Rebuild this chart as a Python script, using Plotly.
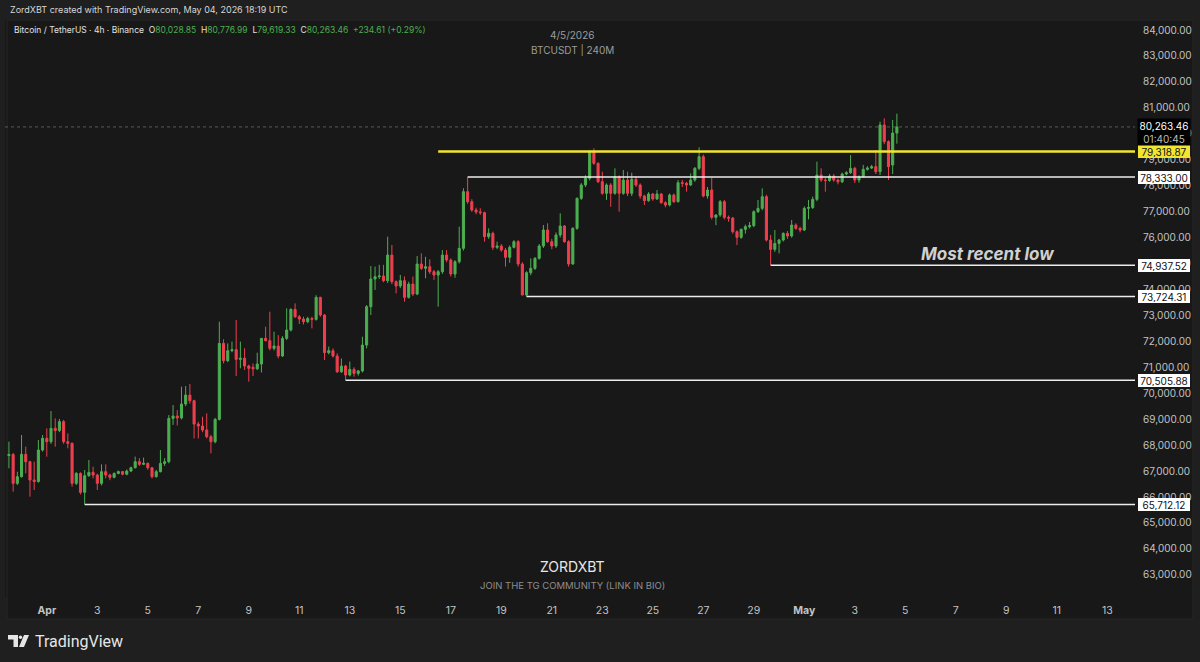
import pandas as pd
import plotly.graph_objects as go

# ---------------- data ----------------
first_bar = "2026-03-30 12:00"

opens = [67600, 67640, 66528, 66785, 67646, 67363, 66656, 66600, 67813, 68263,
         68134, 68648, 68560, 68905, 68134, 68070, 66528, 66913, 66181, 66823,
         66952, 66849, 66528, 66977, 66849, 66760, 66910, 66980, 66880, 67003,
         67132, 67363, 67260, 67300, 67132, 66785, 66977, 67297, 67362, 69032,
         69120, 69050, 69584, 69930, 69713, 68813, 68736, 68582, 68325, 68132,
         68993, 71923, 71255, 71640, 71680, 71306, 71350, 71050, 71000, 70940,
         71126, 72116, 72026, 71730, 71820, 71435, 72116, 72437, 73234, 72950,
         72860, 72758, 72880, 72848, 73696, 73015, 71563, 71640, 71434, 70830,
         71049, 70702, 70920, 70766, 70860, 71858, 73336, 74403, 74493, 74519,
         74339, 75327, 74300, 74133, 74339, 73696, 74210, 73824, 74981, 74814,
         74878, 74685, 74557, 74685, 75327, 75135, 74596, 75070, 75585, 77769,
         77384, 77063, 76990, 76960, 76035, 76163, 75623, 75675, 75520, 75238,
         75623, 75842, 74981, 73786, 74647, 74814, 75199, 75675, 76292, 75842,
         75675, 76099, 76446, 75842, 74981, 76356, 77512, 78027, 78284, 79311,
         78862, 78154, 77705, 78026, 77705, 78347, 77705, 78218, 77705, 78244,
         78026, 77602, 77422, 77679, 77486, 77679, 77345, 77255, 77640, 77383,
         78115, 78090, 78026, 78218, 78668, 79118, 77602, 77833, 76779, 76870,
         77383, 76779, 76750, 76227, 76009, 76317, 76420, 76460, 76997, 77126,
         77576, 75905, 75545, 75776, 75905, 76162, 76060, 76483, 76355, 76290,
         77126, 77160, 77473, 78411, 78218, 78200, 78372, 78218, 78150, 78450,
         78500, 78668, 78218, 78347, 78630, 78680, 78732, 78540, 80338, 79696,
         78796, 80028.85]

highs = [68134, 67700, 66977, 68391, 67941, 67400, 67363, 68198, 68391, 68648,
         69316, 69033, 69008, 68970, 68455, 68100, 66960, 66950, 67042, 67427,
         67170, 66900, 67260, 67260, 66900, 66950, 67020, 67000, 67060, 67170,
         67556, 67500, 67520, 67330, 67150, 67050, 67811, 67500, 69160, 69546,
         69350, 70253, 70278, 70355, 69750, 68900, 69096, 69224, 68400, 69050,
         72758, 72077, 71923, 71990, 72822, 71990, 71730, 71100, 71150, 71563,
         72116, 72566, 73144, 72370, 72240, 72200, 73272, 73272, 73465, 73015,
         72950, 72950, 72950, 73780, 73720, 73050, 71800, 71730, 71540, 71340,
         71100, 71220, 71000, 70900, 72180, 73400, 74904, 74880, 74950, 74950,
         76034, 75713, 74350, 74560, 74500, 74300, 74500, 75288, 75390, 75260,
         75160, 74750, 74750, 75520, 75520, 75200, 75130, 76420, 77900, 78333,
         77480, 77150, 77130, 77000, 76356, 76230, 75842, 75750, 75600, 75700,
         75900, 75900, 75050, 74700, 75200, 75250, 75750, 76485, 76550, 75950,
         76200, 76935, 76485, 75900, 76400, 77550, 78100, 78400, 79375, 79439,
         78900, 78540, 78090, 78100, 78668, 78400, 78604, 78540, 78500, 78370,
         78090, 77650, 77750, 77720, 77833, 77720, 77400, 77700, 77700, 78218,
         78218, 78150, 78475, 78720, 79478, 79200, 77950, 78300, 76900, 77450,
         77450, 76850, 76800, 76280, 76350, 76500, 76600, 77050, 77450, 77897,
         77650, 76100, 76290, 75950, 76200, 76250, 76680, 76550, 76420, 77200,
         77450, 77580, 78925, 78668, 78300, 78450, 78450, 78280, 78500, 78560,
         79182, 78730, 78400, 78800, 78750, 78800, 79375, 80467, 80595, 79750,
         80531, 80776.99]

lows = [67106, 66207, 66464, 66750, 66913, 66014, 66271, 66550, 67750, 67556,
        68050, 67941, 68500, 68050, 67877, 66400, 66460, 66100, 65712.12, 66780,
        66720, 66271, 66450, 66720, 66650, 66720, 66880, 66840, 66840, 66960,
        67100, 67200, 67230, 67050, 66720, 66750, 66950, 67200, 67300, 68780,
        68760, 68990, 69500, 69600, 68260, 68260, 68500, 68260, 67683, 68070,
        68950, 71150, 71200, 71580, 70664, 70960, 70900, 70446, 70664, 70900,
        70800, 72000, 71650, 71650, 71350, 71400, 72050, 72380, 72900, 72670,
        72650, 72700, 72500, 72800, 72950, 71280, 71500, 71380, 70780, 70780,
        70505.88, 70650, 70640, 70680, 70800, 71730, 73015, 73980, 74400, 74280,
        74250, 74200, 73850, 74050, 73530, 73650, 73750, 73780, 74750, 74430,
        74600, 74360, 73336, 74600, 75050, 74500, 74450, 75000, 75500, 77300,
        76990, 76900, 76880, 75842, 75950, 75520, 75550, 75450, 74880, 75030,
        75580, 74880, 73780, 73724.31, 74550, 74750, 75150, 75600, 75800, 75550,
        75600, 76000, 75800, 74880, 74950, 76300, 77450, 77950, 78200, 78800,
        78100, 77650, 77450, 77190, 77650, 76998, 77650, 77600, 77600, 77950,
        77500, 77255, 77380, 77420, 77450, 77300, 77165, 77200, 77330, 77350,
        77950, 77770, 77990, 78150, 78600, 77550, 77500, 76700, 76480, 76800,
        76700, 76610, 76150, 75713, 75950, 76150, 76350, 76400, 76950, 77050,
        75850, 74937.52, 75450, 75390, 75850, 75950, 76000, 76300, 76200, 76250,
        76700, 77100, 77400, 78150, 77770, 78150, 78150, 78050, 78100, 78400,
        78450, 78100, 78115, 78300, 78580, 78640, 78450, 78410, 79600, 78218,
        78450, 79619.33]

closes = [67640, 66528, 66785, 67646, 67363, 66656, 66600, 67813, 68263, 68134,
          68648, 68560, 68905, 68134, 68070, 66528, 66913, 66181, 66823, 66952,
          66849, 66528, 66977, 66849, 66760, 66910, 66980, 66880, 67003, 67132,
          67363, 67260, 67300, 67132, 66785, 66977, 67297, 67362, 69032, 69120,
          69050, 69584, 69930, 69713, 68813, 68736, 68582, 68325, 68132, 68993,
          71923, 71255, 71640, 71680, 71306, 71350, 71050, 70960, 70940, 71126,
          72116, 72026, 71730, 71820, 71435, 72116, 72437, 73234, 72950, 72860,
          72758, 72880, 72848, 73696, 73015, 71563, 71640, 71434, 70830, 71049,
          70702, 70920, 70766, 70860, 71858, 73336, 74403, 74493, 74519, 74339,
          75327, 74300, 74133, 74339, 73696, 74210, 73824, 74981, 74814, 74878,
          74685, 74557, 74685, 75327, 75135, 74596, 75070, 75585, 77769, 77384,
          77063, 76990, 76960, 76035, 76163, 75623, 75675, 75520, 75238, 75623,
          75842, 74981, 73786, 74647, 74814, 75199, 75675, 76292, 75842, 75675,
          76099, 76446, 75842, 74981, 76356, 77512, 78027, 78284, 79311, 78862,
          78154, 77705, 78026, 77705, 78347, 77705, 78218, 77705, 78244, 78026,
          77602, 77422, 77679, 77486, 77679, 77345, 77255, 77640, 77383, 78115,
          78090, 78026, 78218, 78668, 79118, 77602, 77833, 76779, 76870, 77383,
          76779, 76750, 76227, 76009, 76317, 76420, 76460, 76997, 77126, 77576,
          75905, 75545, 75776, 75905, 76162, 76060, 76483, 76355, 76290, 77126,
          77160, 77473, 78411, 78218, 78200, 78372, 78218, 78150, 78450, 78500,
          78668, 78218, 78347, 78630, 78680, 78732, 78540, 80338, 79696, 78732,
          80028.85, 80263.46]

# horizontal levels: (price, start time, colour)
level_prices = [79318.87, 78333.00, 74937.52, 73724.31, 70505.88, 65712.12]
level_starts = ["2026-04-16 12:00", "2026-04-17 16:00", "2026-04-29 16:00",
                "2026-04-20 00:00", "2026-04-12 20:00", "2026-04-02 12:00"]
level_labels = ["79,318.87", "78,333.00", "74,937.52", "73,724.31", "70,505.88", "65,712.12"]

price_ticks = list(range(63000, 85000, 1000))
date_tick_vals = ["2026-04-01", "2026-04-03", "2026-04-05", "2026-04-07", "2026-04-09",
                  "2026-04-11", "2026-04-13", "2026-04-15", "2026-04-17", "2026-04-19",
                  "2026-04-21", "2026-04-23", "2026-04-25", "2026-04-27", "2026-04-29",
                  "2026-05-01", "2026-05-03", "2026-05-05", "2026-05-07", "2026-05-09",
                  "2026-05-11", "2026-05-13"]
date_tick_text = ["Apr", "3", "5", "7", "9", "11", "13", "15", "17", "19", "21", "23",
                  "25", "27", "29", "May", "3", "5", "7", "9", "11", "13"]

last_price = 80263.46

# ---------------- layout geometry ----------------
W, H = 1200, 662
ML, MR, MT, MB = 5, 65, 20, 64
PW = W - ML - MR
PH = H - MT - MB


def xp(px):
    return (px - ML) / PW


def yp(py):
    return (H - MB - py) / PH


times = pd.date_range(first_bar, periods=len(closes), freq="4h")

GREEN = "#4caf50"
RED = "#ef3f4f"
BG_OUT = "#1f1f1f"
BG_PANE = "#181818"
AXIS_TXT = "#c3c3c3"

fig = go.Figure()
fig.add_trace(go.Candlestick(
    x=times, open=opens, high=highs, low=lows, close=closes,
    increasing=dict(line=dict(color=GREEN, width=1), fillcolor=GREEN),
    decreasing=dict(line=dict(color=RED, width=1), fillcolor=RED),
    whiskerwidth=0, hoverinfo="skip", showlegend=False,
))

apr1 = pd.Timestamp("2026-04-01")
px_per_day = 25.25
x0_day = (ML - 46.8) / px_per_day
x1_day = (W - MR - 46.8) / px_per_day
x_range = [apr1 + pd.Timedelta(days=x0_day), apr1 + pd.Timedelta(days=x1_day)]

ppx = 38.54  # price per pixel
y_top = 84000 + (30 - MT) * ppx
y_bot = 84000 - (H - MB - 30) * ppx

shapes = []
# pane background (covers price axis and time axis areas)
shapes.append(dict(type="rect", xref="paper", yref="paper", layer="below",
                   x0=xp(7), x1=xp(1193), y0=yp(619), y1=yp(20),
                   fillcolor=BG_PANE, line=dict(color="#262626", width=1)))

# current price dotted line
shapes.append(dict(type="line", xref="paper", yref="y", x0=0, x1=1,
                   y0=last_price, y1=last_price,
                   line=dict(color="#5a5a5a", width=1, dash="dot")))

for p, s in zip(level_prices, level_starts):
    yellow = abs(p - 79318.87) < 1
    shapes.append(dict(type="line", xref="x", yref="y", x0=s, x1=x_range[1],
                       y0=p, y1=p,
                       line=dict(color="#f2e531" if yellow else "#ececec",
                                 width=2.5 if yellow else 1.5)))

# TradingView logo icon (approximate)
def ppath(points):
    d = "M " + " L ".join(f"{xp(a):.5f},{yp(b):.5f}" for a, b in points) + " Z"
    return d

shapes.append(dict(type="path", xref="paper", yref="paper",
                   path=ppath([(8, 635), (18, 635), (18, 647), (13.5, 647), (13.5, 639.5), (8, 639.5)]),
                   fillcolor="#e6e6e6", line=dict(width=0)))
shapes.append(dict(type="circle", xref="paper", yref="paper",
                   x0=xp(18.8), x1=xp(22.2), y0=yp(639), y1=yp(635.6),
                   fillcolor="#e6e6e6", line=dict(width=0)))
shapes.append(dict(type="path", xref="paper", yref="paper",
                   path=ppath([(24, 635), (29, 635), (24, 647), (19, 647)]),
                   fillcolor="#e6e6e6", line=dict(width=0)))

annotations = []
FONT = "Inter, Roboto, sans-serif"

# level labels on price axis
for p, lab in zip(level_prices, level_labels):
    yellow = abs(p - 79318.87) < 1
    annotations.append(dict(
        xref="paper", yref="y", x=xp(1164), y=p, text=lab, showarrow=False,
        xanchor="center", yanchor="middle", width=50, height=11,
        font=dict(family=FONT, size=10, color="#111111"),
        bgcolor="#f2e531" if yellow else "#ffffff", borderpad=1,
        bordercolor="#f2e531" if yellow else "#ffffff", borderwidth=0))

# current price box
annotations.append(dict(
    xref="paper", yref="paper", x=xp(1164), y=yp(132),
    text="<span style='color:#ffffff'>80,263.46</span><br><span style='color:#bdbdbd'>01:40:45</span>",
    showarrow=False, xanchor="center", yanchor="middle", width=50, height=24,
    font=dict(family=FONT, size=10, color="#ffffff"), bgcolor="#000000", borderpad=1))

# header texts
annotations.append(dict(xref="paper", yref="paper", x=xp(8), y=yp(10),
                        text="ZordXBT created with TradingView.com, May 04, 2026 18:19 UTC",
                        showarrow=False, xanchor="left", yanchor="middle",
                        font=dict(family=FONT, size=9, color="#d6d6d6")))
G = "#4caf50"
legend_txt = (f"Bitcoin / TetherUS · 4h · Binance  O<span style='color:{G}'>80,028.85</span>"
              f"  H<span style='color:{G}'>80,776.99</span>  L<span style='color:{G}'>79,619.33</span>"
              f"  C<span style='color:{G}'>80,263.46</span>  <span style='color:{G}'>+234.61 (+0.29%)</span>")
annotations.append(dict(xref="paper", yref="paper", x=xp(12), y=yp(30), text=legend_txt,
                        showarrow=False, xanchor="left", yanchor="middle",
                        font=dict(family=FONT, size=8.5, color="#e0e0e0")))
annotations.append(dict(xref="paper", yref="paper", x=xp(572), y=yp(35), text="4/5/2026",
                        showarrow=False, xanchor="center", yanchor="middle",
                        font=dict(family=FONT, size=10, color="#9c9c9c")))
annotations.append(dict(xref="paper", yref="paper", x=xp(572), y=yp(50), text="BTCUSDT | 240M",
                        showarrow=False, xanchor="center", yanchor="middle",
                        font=dict(family=FONT, size=10, color="#9c9c9c")))
annotations.append(dict(xref="paper", yref="paper", x=xp(572), y=yp(566), text="ZORDXBT",
                        showarrow=False, xanchor="center", yanchor="middle",
                        font=dict(family=FONT, size=14, color="#e8e8e8")))
annotations.append(dict(xref="paper", yref="paper", x=xp(572), y=yp(585),
                        text="JOIN THE TG COMMUNITY (LINK IN BIO)",
                        showarrow=False, xanchor="center", yanchor="middle",
                        font=dict(family=FONT, size=9.5, color="#8e8e8e")))
annotations.append(dict(xref="paper", yref="paper", x=xp(987), y=yp(254),
                        text="<b><i>Most recent low</i></b>",
                        showarrow=False, xanchor="center", yanchor="middle",
                        font=dict(family=FONT, size=17, color="#d0d0d0")))
annotations.append(dict(xref="paper", yref="paper", x=xp(33), y=yp(641),
                        text="TradingView", showarrow=False, xanchor="left", yanchor="middle",
                        font=dict(family="Roboto, Inter, sans-serif", size=16, color="#e6e6e6")))

tick_text_fmt = [f"<b>{t}</b>" if t in ("Apr", "May") else t for t in date_tick_text]

fig.update_layout(
    width=W, height=H,
    margin=dict(l=ML, r=MR, t=MT, b=MB, autoexpand=False),
    paper_bgcolor=BG_OUT, plot_bgcolor=BG_PANE,
    shapes=shapes, annotations=annotations,
    showlegend=False, hovermode=False,
    font=dict(family=FONT, color=AXIS_TXT),
    xaxis=dict(range=x_range, rangeslider=dict(visible=False), showgrid=False,
               zeroline=False, showline=False, tickmode="array",
               tickvals=date_tick_vals, ticktext=tick_text_fmt, ticks="",
               tickfont=dict(family=FONT, size=10.5, color=AXIS_TXT), ticklabelstandoff=4),
    yaxis=dict(range=[y_bot, y_top], side="right", showgrid=False, zeroline=False,
               showline=False, tickmode="array", tickvals=price_ticks,
               ticktext=[f"{v:,.2f}" for v in price_ticks], ticks="",
               tickfont=dict(family=FONT, size=10, color=AXIS_TXT), ticklabelstandoff=7),
)

fig.write_html(
    "out.html",
    config={"displayModeBar": False},
    post_script="document.body.style.margin='0px';document.body.style.background='" + BG_OUT + "';",
)
